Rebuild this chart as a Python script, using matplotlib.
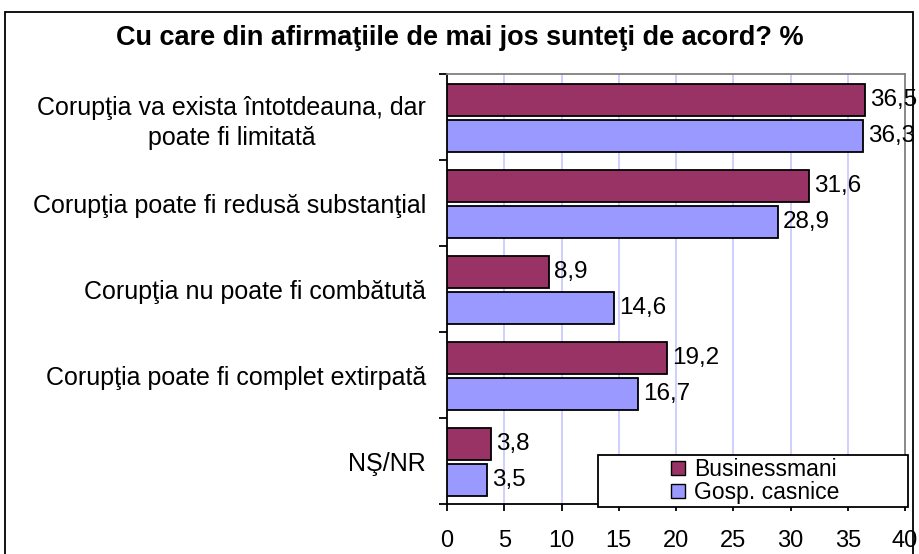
"""Horizontal grouped bar chart: attitudes towards corruption (%)."""

import matplotlib.pyplot as plt
import numpy as np
from matplotlib.patches import Patch, Rectangle

categories = [
    "Corupţia va exista întotdeauna, dar\npoate fi limitată",
    "Corupţia poate fi redusă substanţial",
    "Corupţia nu poate fi combătută",
    "Corupţia poate fi complet extirpată",
    "NŞ/NR",
]
businessmani = [36.5, 31.6, 8.9, 19.2, 3.8]
gospodarii = [36.3, 28.9, 14.6, 16.7, 3.5]
series_names = ["Businessmani", "Gosp. casnice"]
x_ticks = [0, 5, 10, 15, 20, 25, 30, 35, 40]

PLUM = "#993366"
LAVENDER = "#9999FF"
GRID = "#CCCCFF"

plt.rcParams.update({
    "font.family": ["Liberation Sans", "DejaVu Sans"],
    "font.size": 18,
})

fig = plt.figure(figsize=(9.19, 5.54), dpi=100)
ax = fig.add_axes([447 / 919, 1 - 504 / 554, (905 - 447) / 919, (504 - 74) / 554])

# outer chart frame
fig.patches.append(Rectangle((5 / 919, -0.1), 908 / 919, 1.1 - 12 / 554,
                             transform=fig.transFigure, fill=False,
                             edgecolor="black", linewidth=1.3))

y = np.arange(len(categories)) + 0.015
h = 0.372
off = 0.21
ax.barh(y - off, businessmani, height=h, color=PLUM, edgecolor="black",
        linewidth=1.3, zorder=3)
ax.barh(y + off, gospodarii, height=h, color=LAVENDER, edgecolor="black",
        linewidth=1.3, zorder=3)

for yy, v in zip(y, businessmani):
    ax.text(v + 0.45, yy - off, f"{v:.1f}".replace(".", ","), va="center",
            ha="left", fontsize=17.5, zorder=4)
for yy, v in zip(y, gospodarii):
    ax.text(v + 0.45, yy + off, f"{v:.1f}".replace(".", ","), va="center",
            ha="left", fontsize=17.5, zorder=4)

ax.set_xlim(0, 40)
ax.set_ylim(len(categories) - 0.5, -0.5)
ax.set_xticks(x_ticks)
ax.set_yticks(np.arange(len(categories)))
ax.set_yticklabels(categories, ha="right", multialignment="center",
                   linespacing=1.35)
ax.set_yticks(np.arange(len(categories) + 1) - 0.5, minor=True)
ax.tick_params(axis="y", which="major", length=0, pad=15)
ax.tick_params(axis="y", which="minor", length=6, width=1.3, direction="out")
ax.tick_params(axis="x", length=5, width=1.3, direction="out", pad=14,
               labelsize=17)

for xv in x_ticks[1:-1]:
    ax.axvline(xv, color=GRID, linewidth=1.3, zorder=1)

ax.spines["left"].set_linewidth(1.3)
ax.spines["bottom"].set_linewidth(1.3)
ax.spines["top"].set_color("#808080")
ax.spines["right"].set_color("#808080")
ax.spines["top"].set_linewidth(1.3)
ax.spines["right"].set_linewidth(1.3)

fig.text(0.5, 1 - 38 / 554, "Cu care din afirmaţiile de mai jos sunteţi de acord? %",
         ha="center", va="center", fontsize=19.5, fontweight="bold")

# legend box
ax.add_patch(Rectangle(((598 - 447) / 458, -3 / 430), (908 - 598) / 458, (507 - 455) / 430,
                       transform=ax.transAxes, facecolor="white",
                       edgecolor="black", linewidth=1.3, zorder=5, clip_on=False))
handles = [Patch(facecolor=PLUM, edgecolor="black"),
           Patch(facecolor=LAVENDER, edgecolor="black")]
leg = ax.legend(handles, series_names, loc="center",
                bbox_to_anchor=((755 - 447) / 458, (504 - 481) / 430),
                frameon=False, fontsize=16.5, handlelength=0.6, handleheight=0.6,
                handletextpad=0.4, labelspacing=0.0, borderpad=0)
leg.set_zorder(6)

fig.savefig("out.png", dpi=100)
